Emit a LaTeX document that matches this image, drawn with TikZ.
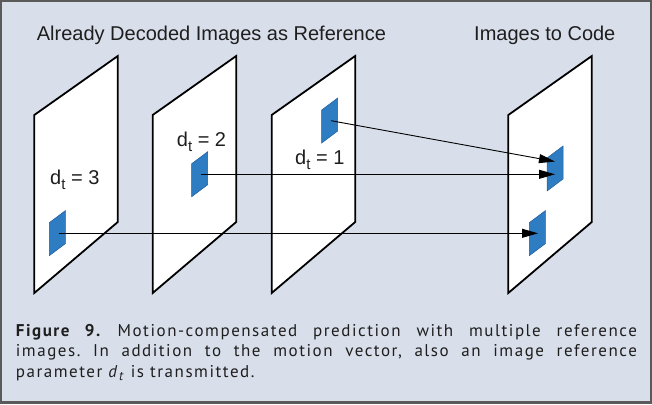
\documentclass[tikz,border=0pt]{standalone}
\usepackage{fontspec}
\setmainfont{Liberation Sans}
\newfontfamily\capfont[LetterSpace=9]{PT Sans}
\usetikzlibrary{arrows.meta}
\definecolor{bg}{HTML}{D9DFEA}
\definecolor{outerline}{HTML}{5A5A5A}
\definecolor{patch}{HTML}{2E7DC3}
\definecolor{patchedge}{HTML}{1E5C99}
\definecolor{ink}{HTML}{1E1E1E}
\newcommand\mvpatch[3]{\draw[block] (#1,#2) -- ++(16,-12) -- ++(0,33) -- ++(-16,12) -- cycle; \coordinate (#3) at (#1+8,#2+10.5);}
\newcommand\subt{\raisebox{-5pt}{\fontsize{15}{15}\selectfont t}}
\frenchspacing
\begin{document}
\begin{tikzpicture}[x=1pt,y=-1pt,
 imageframe/.style={draw=black,line width=1.8pt,fill=white,line join=miter},
 block/.style={draw=patchedge,line width=0.5pt,fill=patch},
 mv/.style={draw=black,line width=0.9pt,-{Triangle[length=16pt,width=9pt]}},
 lbl/.style={font=\fontsize{20}{24}\selectfont,text=ink,inner sep=0pt,anchor=base west},
 captext/.style={font=\capfont\fontsize{17}{20}\selectfont,text=ink,inner sep=0pt,anchor=base west}]
\useasboundingbox (0,0) rectangle (652,404);
\fill[outerline] (0,0) rectangle (652,404);
\fill[bg] (1.5,2) rectangle (650,401);
% image frames
\foreach \x in {34.3,152.7,271.7,508.3}{
  \draw[imageframe] (\x,115) -- (\x+83.5,56) -- (\x+83.5,222) -- (\x,293) -- cycle;
}
% blocks
\mvpatch{49.3}{222.7}{b1}
\mvpatch{191.7}{163.7}{b2}
\mvpatch{321.7}{110}{b3}
\mvpatch{547}{158}{b4a}
\mvpatch{529.3}{222.7}{b4b}
% arrow end points
\coordinate (s1) at (59.3,233.3);
\coordinate (s2) at (201,174.3);
\coordinate (s3) at (331,120.7);
\coordinate (t1) at (538,233.3);
\coordinate (t2) at (555,174.3);
\coordinate (t3) at (555,161.5);
\draw[mv] (s1) -- (t1);
\draw[mv] (s2) -- (t2);
\draw[mv] (s3) -- (t3);
% labels
\node[lbl] (title1) at (36.7,41) {Already Decoded Images as Reference};
\node[lbl] (title2) at (474,41) {Images to Code};
\node[lbl] (d3) at (50,184.3) {d\subt\ = 3};
\node[lbl] (d2) at (176.7,146) {d\subt\ = 2};
\node[lbl] (d1) at (295,164) {d\subt\ = 1};
% caption
\node[captext] (cap1) at (15.7,336) {\makebox[621pt][s]{\textbf{Figure 9.} Motion-compensated prediction with multiple reference}};
\node[captext] (cap2) at (15.7,356.5) {\makebox[621pt][s]{images. In addition to the motion vector, also an image reference}};
\node[captext] (cap3) at (15.7,377) {parameter \textit{d}\raisebox{-3.5pt}{\fontsize{13}{13}\selectfont\textit{t}} is transmitted.};
\end{tikzpicture}
\end{document}
